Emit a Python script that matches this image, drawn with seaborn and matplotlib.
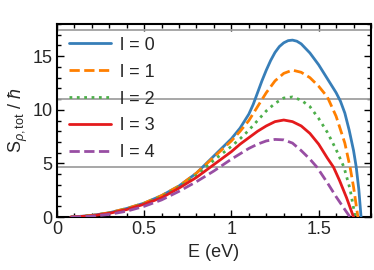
import numpy as np
import pandas as pd
import matplotlib
matplotlib.use('Agg')
import matplotlib.pyplot as plt
from matplotlib.ticker import MultipleLocator, FormatStrFormatter
import seaborn as sns

sns.set_theme(style='ticks')
plt.rcParams['font.family'] = ['Liberation Sans', 'DejaVu Sans']
plt.rcParams['mathtext.fontset'] = 'custom'
plt.rcParams['mathtext.rm'] = 'Liberation Sans'
plt.rcParams['mathtext.it'] = 'Liberation Sans:italic'

# values (E in eV, S in units of hbar)
E_l0 = [0.08, 0.2, 0.3, 0.4, 0.5, 0.6, 0.7, 0.8, 0.9, 1.0, 1.05, 1.1, 1.125, 1.15, 1.175, 1.2,
        1.225, 1.25, 1.275, 1.3, 1.325, 1.35, 1.375, 1.4, 1.45, 1.5, 1.55, 1.6, 1.625, 1.65,
        1.675, 1.70, 1.715, 1.73, 1.743]
S_l0 = [0.0, 0.15, 0.4, 0.8, 1.3, 2.0, 2.9, 4.1, 5.7, 7.3, 8.3, 9.6, 10.5, 11.6, 12.7, 13.7,
        14.6, 15.35, 15.9, 16.25, 16.45, 16.5, 16.4, 16.15, 15.3, 14.2, 12.9, 11.6, 10.8, 9.7,
        8.1, 6.2, 4.7, 2.6, 0.0]

E_l1 = [0.08, 0.2, 0.3, 0.4, 0.5, 0.6, 0.7, 0.8, 0.9, 1.0, 1.05, 1.1, 1.15, 1.2, 1.25, 1.3, 1.35,
        1.4, 1.45, 1.5, 1.55, 1.6, 1.65, 1.68, 1.70, 1.725]
S_l1 = [0.0, 0.15, 0.4, 0.8, 1.3, 2.0, 2.9, 4.1, 5.6, 7.1, 8.0, 9.0, 10.3, 11.6, 12.7, 13.4, 13.7,
        13.5, 13.0, 12.2, 11.2, 9.4, 6.9, 4.66, 2.8, 0.0]

E_l2 = [0.08, 0.2, 0.3, 0.4, 0.5, 0.6, 0.7, 0.8, 0.9, 1.0, 1.05, 1.1, 1.15, 1.2, 1.25, 1.3, 1.35,
        1.4, 1.45, 1.5, 1.55, 1.6, 1.645, 1.68, 1.71]
S_l2 = [0.0, 0.14, 0.38, 0.75, 1.25, 1.9, 2.8, 3.9, 5.3, 6.6, 7.3, 8.1, 9.0, 9.9, 10.6, 11.1, 11.2,
        10.9, 10.3, 9.2, 7.9, 6.3, 4.66, 2.6, 0.0]

E_l3 = [0.08, 0.2, 0.3, 0.4, 0.5, 0.6, 0.7, 0.8, 0.9, 1.0, 1.05, 1.1, 1.15, 1.2, 1.25, 1.3, 1.35,
        1.4, 1.45, 1.5, 1.55, 1.585, 1.62, 1.66, 1.70]
S_l3 = [0.0, 0.12, 0.35, 0.7, 1.2, 1.8, 2.7, 3.7, 4.9, 6.1, 6.8, 7.4, 8.0, 8.5, 8.9, 9.05, 8.9,
        8.5, 7.8, 6.8, 5.5, 4.66, 3.4, 1.8, 0.0]

E_l4 = [0.08, 0.2, 0.3, 0.4, 0.5, 0.6, 0.7, 0.8, 0.9, 1.0, 1.05, 1.1, 1.15, 1.2, 1.25, 1.3, 1.35,
        1.4, 1.45, 1.49, 1.55, 1.6, 1.65, 1.68]
S_l4 = [0.0, 0.08, 0.25, 0.55, 1.0, 1.6, 2.4, 3.3, 4.3, 5.4, 5.9, 6.4, 6.8, 7.1, 7.24, 7.2, 6.9,
        6.2, 5.4, 4.66, 3.2, 1.9, 0.7, 0.0]

labels = ['l = 0', 'l = 1', 'l = 2', 'l = 3', 'l = 4']
ref_levels = [17.4, 11.0, 4.7]

colors = ['#377eb8', '#ff7f00', '#4daf4a', '#e41a1c', '#984ea3']
styles = ['-', '--', ':', '-', '--']

fig = plt.figure(figsize=(3.74, 2.70), dpi=100)
ax = fig.add_axes([0.152, 0.196, 0.84, 0.715])

for y in ref_levels:
    ax.axhline(y, color='#a0a0a0', lw=1.3, zorder=1)

curves = [(E_l0, S_l0), (E_l1, S_l1), (E_l2, S_l2), (E_l3, S_l3), (E_l4, S_l4)]
for (e, s), lab, c, ls in zip(curves, labels, colors, styles):
    sns.lineplot(x=e, y=s, ax=ax, color=c, linestyle=ls, lw=2, label=lab, zorder=3)

ax.set_xlim(0, 1.8)
ax.set_ylim(0, 18)
ax.xaxis.set_major_locator(MultipleLocator(0.5))
ax.xaxis.set_minor_locator(MultipleLocator(0.1))
ax.yaxis.set_major_locator(MultipleLocator(5))
ax.yaxis.set_minor_locator(MultipleLocator(1))
ax.xaxis.set_major_formatter(FormatStrFormatter('%g'))
ax.yaxis.set_major_formatter(FormatStrFormatter('%g'))
ax.tick_params(which='both', direction='in', top=True, right=True, labelsize=13,
               color='black', width=1.0)
ax.tick_params(which='major', length=5, pad=3)
ax.tick_params(which='minor', length=3)
for sp in ax.spines.values():
    sp.set_color('black')
    sp.set_linewidth(1.5)

ax.set_xlabel('E (eV)', fontsize=13, labelpad=4)
ax.set_ylabel(r'S$_{\rho,\mathrm{tot}}$ / $\hbar$', fontsize=13, labelpad=2)

leg = ax.legend(loc='upper left', frameon=False, fontsize=13, handlelength=2.3,
                labelspacing=0.55, borderaxespad=0.3, handletextpad=0.5)

fig.savefig('out.png', dpi=100)
